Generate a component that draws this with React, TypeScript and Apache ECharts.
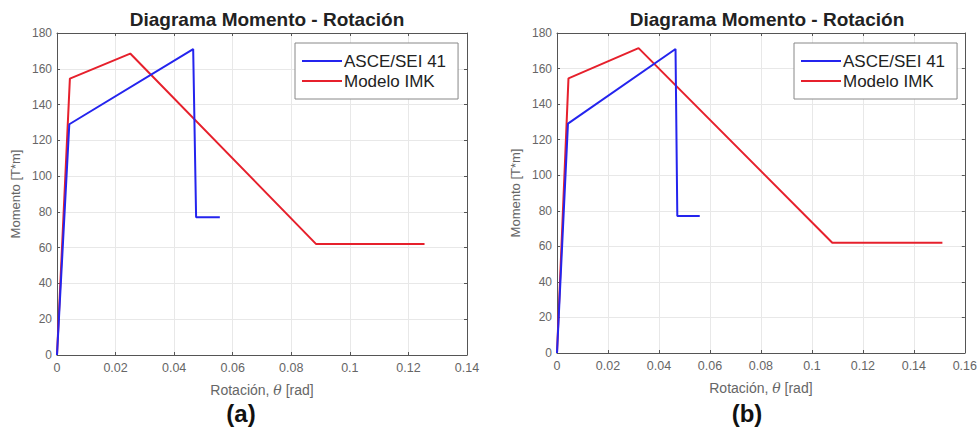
import React, { useEffect, useRef } from "react";
import * as echarts from "echarts";

const asceA: [number, number][] = [
  [0, 0], [0.0042, 129], [0.0465, 171], [0.0475, 77], [0.0556, 77],
];
const imkA: [number, number][] = [
  [0, 0], [0.0044, 154.5], [0.025, 168.5], [0.0885, 62], [0.1255, 62],
];
const asceB: [number, number][] = [
  [0, 0], [0.0043, 129], [0.0465, 171], [0.0472, 77], [0.056, 77],
];
const imkB: [number, number][] = [
  [0, 0], [0.0045, 154.5], [0.032, 171.5], [0.108, 62], [0.1512, 62],
];
const xMaxA = 0.14;
const xMaxB = 0.16;
const xStep = 0.02;
const yMax = 180;
const yStep = 20;
const seriesNames = ["ASCE/SEI 41", "Modelo IMK"];
const titleText = "Diagrama Momento - Rotación";
const panelLabels = ["(a)", "(b)"];

const FONT = "'Liberation Sans', Arial, sans-serif";
const BLUE = "#2424ee";
const RED = "#e6202c";

export default function App() {
  const ref = useRef<HTMLDivElement>(null);
  useEffect(() => {
    if (!ref.current) return;
    const chart = echarts.init(ref.current, null, { renderer: "svg" });
    const grids = [
      { left: 57, top: 33, width: 410, height: 322 },
      { left: 557, top: 33, width: 409, height: 320 },
    ];
    const fmt = (v: number) => String(+v.toFixed(2));
    const xAxes: any[] = [];
    const yAxes: any[] = [];
    [xMaxA, xMaxB].forEach((mx, i) => {
      xAxes.push({
        type: "value", gridIndex: i, min: 0, max: mx, interval: xStep,
        name: "Rotación, {i|θ} [rad]", nameLocation: "middle", nameGap: 28,
        nameTextStyle: { color: "#666", fontSize: 14, fontFamily: FONT, rich: { i: { fontStyle: "italic", color: "#666", fontSize: 14, fontFamily: "'DejaVu Serif', serif" } } },
        axisLine: { show: true, onZero: false, lineStyle: { color: "#555", width: 1 } },
        axisTick: { show: true, inside: true, length: 3, lineStyle: { color: "#555" } },
        axisLabel: { color: "#666", fontSize: 12.5, fontFamily: FONT, margin: 6, formatter: fmt },
        splitLine: { show: true, lineStyle: { color: "#e8e8e8", width: 1 } },
      });
      xAxes.push({
        type: "value", gridIndex: i, min: 0, max: mx, interval: xStep, position: "top",
        axisLine: { show: true, onZero: false, lineStyle: { color: "#555", width: 1 } },
        axisTick: { show: true, inside: true, length: 3, lineStyle: { color: "#555" } },
        axisLabel: { show: false }, splitLine: { show: false },
      });
      yAxes.push({
        type: "value", gridIndex: i, min: 0, max: yMax, interval: yStep,
        name: "Momento [T*m]", nameLocation: "middle", nameGap: 35,
        nameTextStyle: { color: "#666", fontSize: 13, fontFamily: FONT },
        axisLine: { show: true, onZero: false, lineStyle: { color: "#555", width: 1 } },
        axisTick: { show: true, inside: true, length: 3, lineStyle: { color: "#555" } },
        axisLabel: { color: "#666", fontSize: 12, fontFamily: FONT, margin: 5 },
        splitLine: { show: true, lineStyle: { color: "#e8e8e8", width: 1 } },
      });
      yAxes.push({
        type: "value", gridIndex: i, min: 0, max: yMax, interval: yStep, position: "right",
        axisLine: { show: true, onZero: false, lineStyle: { color: "#555", width: 1 } },
        axisTick: { show: true, inside: true, length: 3, lineStyle: { color: "#555" } },
        axisLabel: { show: false }, splitLine: { show: false },
      });
    });
    const mk = (name: string, data: [number, number][], color: string, i: number) => ({
      type: "line", name, data, xAxisIndex: i * 2, yAxisIndex: i * 2,
      symbol: "none", lineStyle: { color, width: 2 }, itemStyle: { color },
      z: name === seriesNames[0] ? 3 : 2,
    });
    const legendBase = {
      orient: "vertical", top: 43, padding: [8, 12, 8, 7], itemGap: 0,
      itemWidth: 40, itemHeight: 2, icon: "rect", backgroundColor: "#fff",
      borderColor: "#888", borderWidth: 1,
      textStyle: { color: "#222", fontSize: 17, lineHeight: 20, fontFamily: FONT, padding: [0, 0, 0, -3] },
      data: seriesNames,
    };
    chart.setOption({
      animation: false,
      backgroundColor: "#fff",
      title: [
        { text: titleText, left: 262, top: 5, textAlign: "center", textStyle: { fontSize: 19, fontWeight: "bold", color: "#222", fontFamily: FONT } },
        { text: titleText, left: 762, top: 5, textAlign: "center", textStyle: { fontSize: 19, fontWeight: "bold", color: "#222", fontFamily: FONT } },
        { text: panelLabels[0], left: 236, top: 396, textAlign: "center", textStyle: { fontSize: 24, fontWeight: "bold", color: "#111", fontFamily: FONT } },
        { text: panelLabels[1], left: 742, top: 396, textAlign: "center", textStyle: { fontSize: 24, fontWeight: "bold", color: "#111", fontFamily: FONT } },
      ],
      legend: [
        { ...legendBase, left: 295 },
        { ...legendBase, left: 794 },
      ],
      grid: grids.map((g) => ({ ...g, show: false })),
      xAxis: xAxes,
      yAxis: yAxes,
      series: [
        mk(seriesNames[0], asceA, BLUE, 0),
        mk(seriesNames[1], imkA, RED, 0),
        mk(seriesNames[0], asceB, BLUE, 1),
        mk(seriesNames[1], imkB, RED, 1),
      ],
    });
    return () => chart.dispose();
  }, []);
  return <div ref={ref} style={{ width: 980, height: 428, position: "absolute", left: 0, top: 0 }} />;
}
